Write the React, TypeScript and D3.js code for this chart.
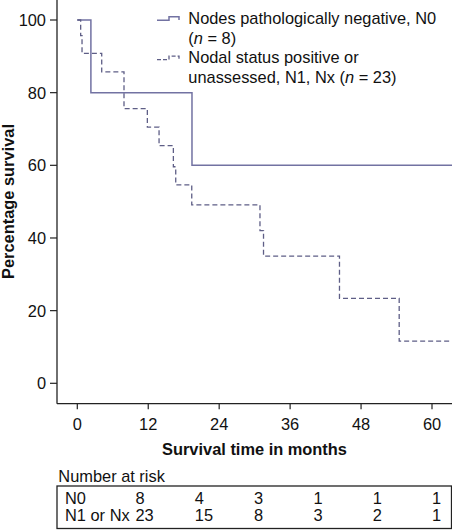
import React from "react";
import * as d3 from "d3";

// ---- data ----
const yTicks = [0, 20, 40, 60, 80, 100];
const xTicks = [0, 12, 24, 36, 48, 60];

const n0Times = [0, 2.3, 19.4, 63.4];
const n0Surv = [100, 80, 60, 60];

const n1Times = [0, 0.57, 0.8, 4.13, 7.9, 11.85, 13.83, 16.25, 16.65, 19.36, 30.9, 31.5, 44.35, 54.45, 63.4];
const n1Surv = [100, 95.7, 90.8, 85.7, 75.6, 70.5, 65.4, 59.6, 54.6, 49.1, 42.0, 35.0, 23.4, 11.6, 11.6];

const riskRows = ["N0", "N1 or Nx"];
const riskN0 = [8, 4, 3, 1, 1, 1];
const riskN1 = [23, 15, 8, 3, 2, 1];

const legendLines1 = ["Nodes pathologically negative, N0"];
const legendLines2 = ["Nodal status positive or"];

const W = 452;
const H = 530;
const FONT = "'Liberation Sans', Arial, Helvetica, sans-serif";
const FS = 16.4;
const AXIS = "#222";
const SOLID = "#7272a2";
const DASHED = "#5e5e86";

export default function App() {
  const x = d3.scaleLinear().domain([0, 60]).range([77.3, 432]);
  const y = d3.scaleLinear().domain([0, 100]).range([383.3, 20]);
  const axisX = 57;
  const axisY = 403.7;

  const line = d3
    .line<[number, number]>()
    .x((d) => x(d[0]))
    .y((d) => y(d[1]))
    .curve(d3.curveStepAfter);

  const n0Path = line(n0Times.map((t, i) => [t, n0Surv[i]] as [number, number])) || "";
  const n1Path = line(n1Times.map((t, i) => [t, n1Surv[i]] as [number, number])) || "";

  const colX = d3.scaleLinear().domain([0, 5]).range([135.5, 432]);

  const lb = (i: number) => 24 + 19.7 * i; // legend baselines
  const sampleStep = (base: number) =>
    `M157,${base - 3.8}H169V${base - 7.2}H179V${base - 4}`;

  return (
    <svg
      width={W}
      height={H}
      style={{ position: "fixed", left: 0, top: 0, background: "#fff" }}
      fontFamily={FONT}
      fontSize={FS}
    >
      <rect x={0} y={0} width={W} height={H} fill="#fff" />
      {/* axes */}
      <line x1={axisX} x2={axisX} y1={0} y2={axisY} stroke={AXIS} strokeWidth={1.3} />
      <line x1={axisX} x2={W} y1={axisY} y2={axisY} stroke={AXIS} strokeWidth={1.3} />
      {yTicks.map((t) => (
        <g key={"y" + t}>
          <line x1={axisX - 7} x2={axisX} y1={y(t)} y2={y(t)} stroke={AXIS} strokeWidth={1.2} />
          <text x={46} y={y(t)} dy="0.36em" textAnchor="end" fill="#111">
            {t}
          </text>
        </g>
      ))}
      {xTicks.map((t) => (
        <g key={"x" + t}>
          <line x1={x(t)} x2={x(t)} y1={axisY} y2={axisY + 5.5} stroke={AXIS} strokeWidth={1.2} />
          <text x={x(t)} y={430} textAnchor="middle" fill="#111">
            {t}
          </text>
        </g>
      ))}
      <text
        transform={`translate(13.5,201.5) rotate(-90)`}
        textAnchor="middle"
        fontWeight="bold"
        fill="#111"
      >
        Percentage survival
      </text>
      <text x={254.5} y={455} textAnchor="middle" fontWeight="bold" fill="#111">
        Survival time in months
      </text>

      {/* curves */}
      <path d={n0Path} fill="none" stroke={SOLID} strokeWidth={1.5} />
      <path d={n1Path} fill="none" stroke={DASHED} strokeWidth={1.3} strokeDasharray="5,3" />

      {/* legend */}
      <rect x={150} y={6} width={302} height={84} fill="#fff" />
      <path d={sampleStep(lb(0))} fill="none" stroke={SOLID} strokeWidth={1.5} />
      <path d={sampleStep(lb(2))} fill="none" stroke={DASHED} strokeWidth={1.3} strokeDasharray="4,2" />
      <text x={188.3} y={lb(0)} fill="#111">
        {legendLines1[0]}
      </text>
      <text x={188.3} y={lb(1)} fill="#111">
        (<tspan fontStyle="italic">n</tspan> = 8)
      </text>
      <text x={188.3} y={lb(2)} fill="#111">
        {legendLines2[0]}
      </text>
      <text x={188.3} y={lb(3)} fill="#111">
        unassessed, N1, Nx (<tspan fontStyle="italic">n</tspan> = 23)
      </text>

      {/* number at risk */}
      <text x={58.3} y={481.5} fill="#111">
        Number at risk
      </text>
      <rect x={57} y={486} width={394.5} height={42.5} fill="none" stroke={AXIS} strokeWidth={1.3} />
      {riskRows.map((r, ri) => (
        <g key={r}>
          <text x={65} y={ri === 0 ? 504.3 : 520.5} fill="#111">
            {r}
          </text>
          {(ri === 0 ? riskN0 : riskN1).map((v, i) => (
            <text key={i} x={colX(i)} y={ri === 0 ? 504.3 : 520.5} fill="#111">
              {v}
            </text>
          ))}
        </g>
      ))}
    </svg>
  );
}
